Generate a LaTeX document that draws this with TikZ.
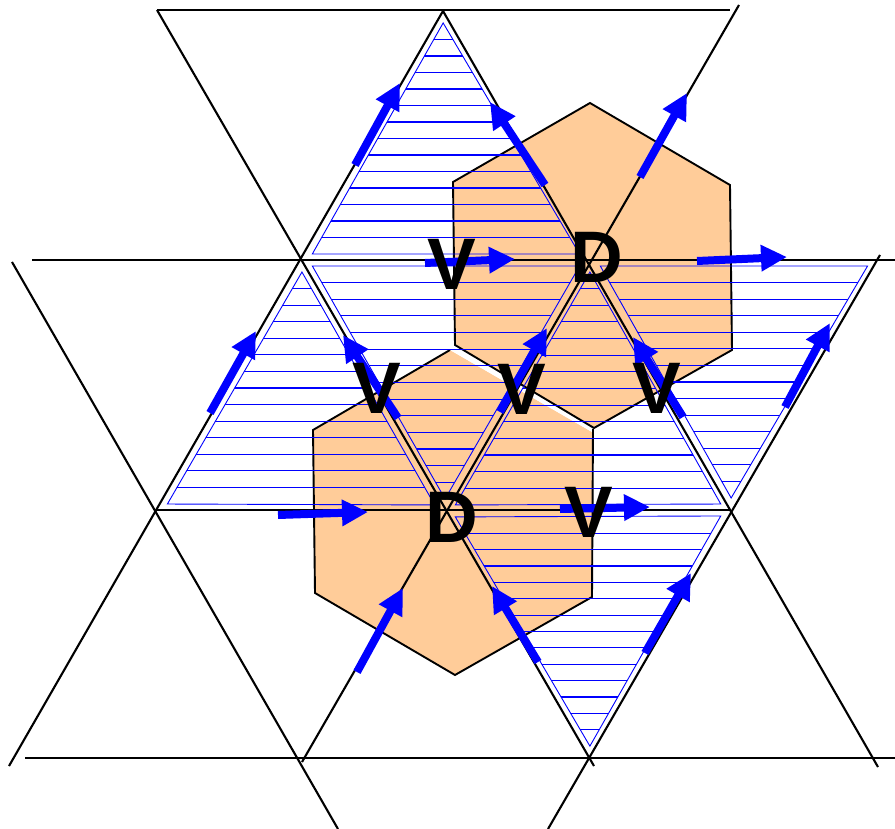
\documentclass[tikz,border=0pt]{standalone}
\usepackage{fontspec}
\setmainfont{Liberation Sans}
\usetikzlibrary{calc,arrows.meta}
\definecolor{hexfill}{RGB}{255,204,153}
\newcommand{\hatchtri}[3]{%
  \coordinate (G) at ($0.3333*(#1)+0.3333*(#2)+0.3334*(#3)$);
  \coordinate (ta) at ($(G)!0.928!(#1)$);
  \coordinate (tb) at ($(G)!0.928!(#2)$);
  \coordinate (tc) at ($(G)!0.928!(#3)$);
  \begin{scope}
    \clip (ta) -- (tb) -- (tc) -- cycle;
    \foreach \k in {1,...,13}{\draw[hatchline] ($(ta)!{\k/14}!(tc)$) ++(-400,0) -- ++(800,0);}
  \end{scope}
  \draw[insetedge] (ta) -- (tb) -- (tc) -- cycle;
}
\begin{document}
\begin{tikzpicture}[x=1pt,y=-1pt,
  lattice/.style={line width=2.1pt, black},
  hexborder/.style={draw=black, line width=1.9pt, line join=miter},
  hatchline/.style={blue, line width=1.1pt},
  insetedge/.style={blue, line width=0.9pt},
  spin/.style={blue, line width=8pt, -{Triangle[length=26pt,width=25pt]}},
  lbl/.style={inner sep=0pt, font=\fontsize{73}{73}\selectfont\bfseries}
]
\useasboundingbox (0,0) rectangle (895,829);

% lattice vertices
\coordinate (A) at (443,11);
\coordinate (P1) at (302,260);
\coordinate (P2) at (590,260);
\coordinate (P3) at (878,260);
\coordinate (Q1) at (157,510);
\coordinate (Q2) at (445,511);
\coordinate (Q3) at (731,510);
\coordinate (R2) at (590,758);

% hexagons
\fill[hexfill] (313,430) -- (450,350) -- (592,432) -- (592,597) -- (455,675) -- (315,593) -- cycle;
\fill[hexfill] (590,103) -- (730,185) -- (732,350) -- (594,428) -- (455,345) -- (453,182) -- cycle;
\fill[white] (455,345) -- (594,428) -- (592,432) -- (450,350) -- cycle;
\draw[hexborder] (450,350) -- (313,430) -- (315,593) -- (455,675) -- (592,597) -- (593,429);
\draw[hexborder] (590,103) -- (730,185) -- (732,350) -- (594,428) -- (455,345) -- (453,182) -- cycle;

% hatched triangles
\hatchtri{P1}{P2}{A}
\hatchtri{P1}{P2}{Q2}
\hatchtri{Q1}{Q2}{P1}
\hatchtri{Q2}{Q3}{P2}
\hatchtri{P2}{P3}{Q3}
\hatchtri{Q2}{Q3}{R2}

% lattice lines
\coordinate (h1a) at (157,10);  \coordinate (h1b) at (730,10);
\coordinate (h2a) at (32,260);  \coordinate (h2b) at (895,260);
\coordinate (h3a) at (157,510); \coordinate (h3b) at (730,510);
\coordinate (h4a) at (25,758);  \coordinate (h4b) at (895,758);
\coordinate (s1a) at (9,766);   \coordinate (s1b) at (443,11);
\coordinate (s2a) at (302,762); \coordinate (s2b) at (739,5);
\coordinate (s3a) at (548,829); \coordinate (s3b) at (880,255);
\coordinate (b1a) at (12,262);  \coordinate (b1b) at (338,829);
\coordinate (b2a) at (157,10);  \coordinate (b2b) at (594,766);
\coordinate (b3a) at (443,11);  \coordinate (b3b) at (878,767);
\draw[lattice] (h1a) -- (h1b);
\draw[lattice] (h2a) -- (h2b);
\draw[lattice] (h3a) -- (h3b);
\draw[lattice] (h4a) -- (h4b);
\draw[lattice] (s1a) -- (s1b);
\draw[lattice] (s2a) -- (s2b);
\draw[lattice] (s3a) -- (s3b);
\draw[lattice] (b1a) -- (b1b);
\draw[lattice] (b2a) -- (b2b);
\draw[lattice] (b3a) -- (b3b);

% arrows
\draw[spin] (355,165) -- (400,83);
\draw[spin] (545,185) -- (490,102);
\draw[spin] (640,177) -- (687,93);
\draw[spin] (425,263) -- (515,259);
\draw[spin] (697,261) -- (787,257);
\draw[spin] (210,413) -- (256,331);
\draw[spin] (398,418) -- (343,335);
\draw[spin] (500,412) -- (547,328);
\draw[spin] (683,417) -- (633,337);
\draw[spin] (785,407) -- (830,323);
\draw[spin] (278,515) -- (368,512);
\draw[spin] (560,509) -- (650,507);
\draw[spin] (357,672) -- (403,588);
\draw[spin] (538,662) -- (492,586);
\draw[spin] (645,653) -- (691,573);

% labels
\node[lbl] (v1) at (452,264) {V};
\node[lbl] (d1) at (597,257) {D};
\node[lbl] (v2) at (377,388) {V};
\node[lbl] (v3) at (522,389) {V};
\node[lbl] (v4) at (657,388) {V};
\node[lbl] (d2) at (452,517) {D};
\node[lbl] (v5) at (589,512) {V};
\end{tikzpicture}
\end{document}
